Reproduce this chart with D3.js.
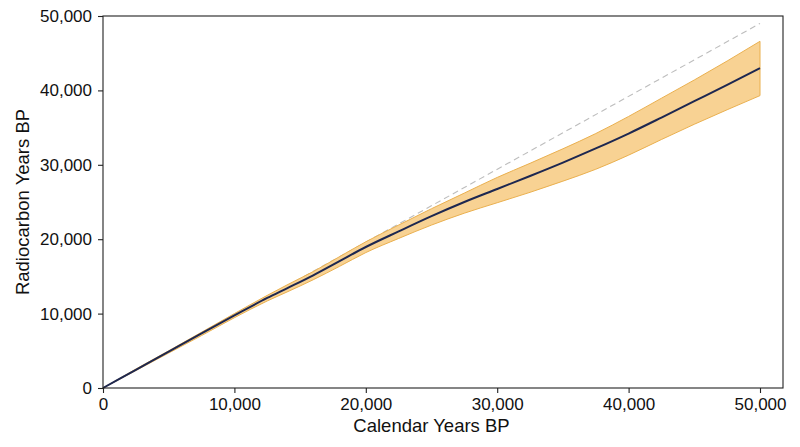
<!DOCTYPE html>
<html>
<head>
<meta charset="utf-8">
<script src="https://cdn.jsdelivr.net/npm/d3@7"></script>
<style>
  body { margin: 0; background: #fff; }
  svg text { font-family: "Liberation Sans", Arial, Helvetica, sans-serif; fill: #111; }
</style>
</head>
<body>
<div id="chart"></div>
<script>
// calendar age (x) and radiocarbon age (y)
const calYears = [0, 2500, 5000, 7500, 10000, 12500, 14000, 16000, 18000, 20000, 22500,
                  25000, 27500, 30000, 32500, 35000, 37500, 40000, 42500, 45000, 47500, 50000];
const rcMean  = [0, 2450, 4900, 7350, 9750, 12100, 13400, 15150, 17050, 18950, 21050,
                 23100, 25000, 26750, 28500, 30300, 32200, 34200, 36350, 38550, 40750, 43000];
const rcUpper = [0, 2550, 5000, 7500, 10000, 12450, 13850, 15650, 17650, 19650, 21900,
                 24100, 26200, 28300, 30200, 32150, 34200, 36500, 38950, 41400, 43950, 46600];
const rcLower = [0, 2350, 4700, 7050, 9450, 11700, 12900, 14550, 16350, 18200, 20100,
                 21900, 23500, 24900, 26300, 27800, 29400, 31300, 33400, 35450, 37400, 39300];
// reference line end points
const refCal = [0, 50000];
const refRc  = [0, 49000];
const xTicks = [0, 10000, 20000, 30000, 40000, 50000];
const yTicks = [0, 10000, 20000, 30000, 40000, 50000];

const W = 800, H = 447;
const margin = {top: 16, right: 17, bottom: 59, left: 103};
const width = W - margin.left - margin.right;
const height = H - margin.top - margin.bottom;

const svg = d3.select("#chart").append("svg")
    .attr("width", W)
    .attr("height", H);

const g = svg.append("g")
    .attr("transform", `translate(${margin.left},${margin.top})`);

const x = d3.scaleLinear().domain([0, 51750]).range([0, width]);
const y = d3.scaleLinear().domain([0, 50000]).range([height, 0]);

const rows = calYears.map((c, i) => ({cal: c, mean: rcMean[i], hi: rcUpper[i], lo: rcLower[i]}));

// reference dashed line
g.append("path")
    .datum(refCal.map((c, i) => [c, refRc[i]]))
    .attr("fill", "none")
    .attr("stroke", "#bdbdbd")
    .attr("stroke-width", 1.1)
    .attr("stroke-dasharray", "6,4")
    .attr("d", d3.line().x(d => x(d[0])).y(d => y(d[1])));

// uncertainty band
g.append("path")
    .datum(rows)
    .attr("fill", "#f8d293")
    .attr("stroke", "#eab04f")
    .attr("stroke-width", 1)
    .attr("d", d3.area()
        .x(d => x(d.cal))
        .y0(d => y(d.lo))
        .y1(d => y(d.hi))
        .curve(d3.curveMonotoneX));

// mean curve
g.append("path")
    .datum(rows)
    .attr("fill", "none")
    .attr("stroke", "#1d2750")
    .attr("stroke-width", 2)
    .attr("d", d3.line()
        .x(d => x(d.cal))
        .y(d => y(d.mean))
        .curve(d3.curveMonotoneX));

// frame
g.append("rect")
    .attr("width", width)
    .attr("height", height)
    .attr("fill", "none")
    .attr("stroke", "#222")
    .attr("stroke-width", 1.1);

const fmt = d3.format(",");

const xAxis = g.append("g")
    .attr("transform", `translate(0,${height})`)
    .call(d3.axisBottom(x).tickValues(xTicks).tickFormat(fmt).tickSize(5).tickPadding(5));
const yAxis = g.append("g")
    .call(d3.axisLeft(y).tickValues(yTicks).tickFormat(fmt).tickSize(5).tickPadding(6));

[xAxis, yAxis].forEach(a => {
  a.select(".domain").remove();
  a.selectAll(".tick line").attr("stroke", "#222").attr("stroke-width", 1.1);
  a.selectAll(".tick text").attr("font-size", 17).attr("fill", "#111")
    .attr("font-family", "Liberation Sans, Arial, sans-serif");
});

svg.append("text")
    .attr("x", margin.left + x(25000))
    .attr("y", 432)
    .attr("text-anchor", "middle")
    .attr("font-size", 18.5)
    .text("Calendar Years BP");

svg.append("text")
    .attr("transform", "translate(29,202) rotate(-90)")
    .attr("text-anchor", "middle")
    .attr("font-size", 18.5)
    .text("Radiocarbon Years BP");
</script>
</body>
</html>
